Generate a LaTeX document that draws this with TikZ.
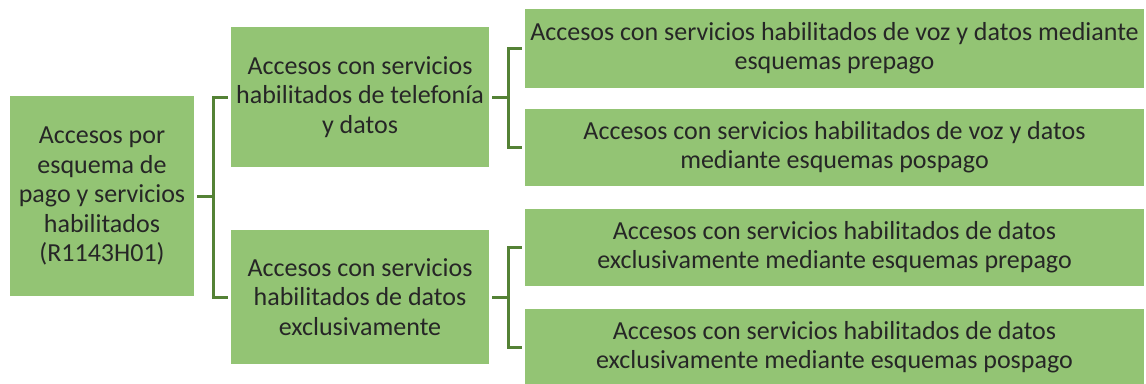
\documentclass[tikz,border=0pt]{standalone}
\usepackage{fontspec}
\setmainfont{Carlito}
\usetikzlibrary{positioning}
\definecolor{boxgreen}{RGB}{147,196,116}
\definecolor{linegreen}{RGB}{84,130,53}
\tikzset{
  box/.style={draw=none, fill=boxgreen, align=center, inner sep=1, outer sep=3,
    text=black!85, font=\fontsize{26}{29.5}\selectfont},
  rootbox/.style={box, minimum width=184, minimum height=200},
  midbox/.style={box, minimum width=258, minimum height=140},
  leafbox/.style={box, minimum width=619, minimum height=77},
  link/.style={draw=linegreen, line width=3}
}

\begin{document}
\begin{tikzpicture}[x=1pt,y=-1pt]

\useasboundingbox (0,0) rectangle (1146,383);

\node [rootbox] (root) at (102,196) {Accesos por\\esquema de\\pago y servicios\\habilitados\\(R1143H01)};

\node [midbox] (tel) at (360,97) {Accesos con servicios\\habilitados de telefonía\\y datos};
\node [midbox, minimum height=134] (dat) at (360,297) {Accesos con servicios\\habilitados de datos\\exclusivamente};

\node [leafbox, minimum height=79] (vozpre) at (834.5,48) {Accesos con servicios habilitados de voz y datos mediante\\esquemas prepago};
\node [leafbox] (vozpos) at (834.5,147) {Accesos con servicios habilitados de voz y datos\\mediante esquemas pospago};
\node [leafbox] (datpre) at (834.5,247) {Accesos con servicios habilitados de datos\\exclusivamente mediante esquemas prepago};
\node [leafbox] (datpos) at (834.5,347) {Accesos con servicios habilitados de datos\\exclusivamente mediante esquemas pospago};

% brackets
\draw [link] (root.east) -- ++(16,0) coordinate (rootfork);
\draw [link] (rootfork) |- (tel.west);
\draw [link] (rootfork) |- (dat.west);

\draw [link] (tel.east) -- ++(16,0) coordinate (telfork);
\draw [link] (telfork) |- (vozpre.west);
\draw [link] (telfork) |- (vozpos.west);

\draw [link] (dat.east) -- ++(16,0) coordinate (datfork);
\draw [link] (datfork) |- (datpre.west);
\draw [link] (datfork) |- (datpos.west);

\end{tikzpicture}
\end{document}
